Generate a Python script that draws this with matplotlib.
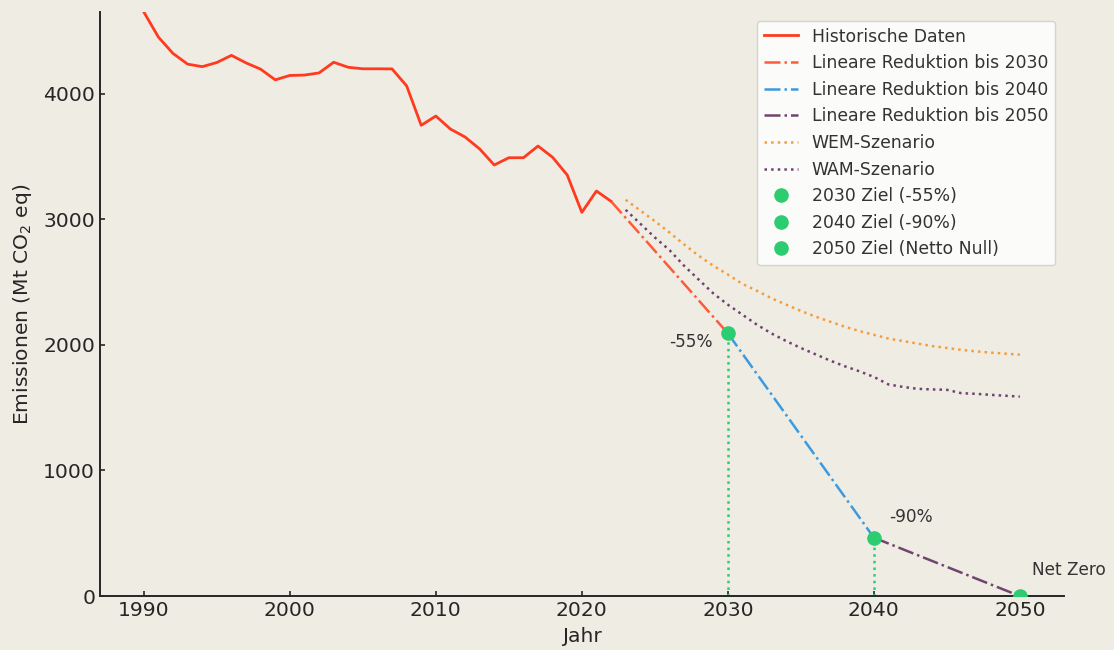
import matplotlib
matplotlib.use("Agg")
import matplotlib.pyplot as plt
import numpy as np

plt.rcParams['font.family'] = ['DejaVu Sans']

# Historical data
hist_years = list(range(1990, 2023))
hist_vals = [4650, 4450, 4320, 4235, 4215, 4248, 4305, 4245, 4195, 4110,
             4145, 4148, 4165, 4250, 4210, 4198, 4198, 4197, 4062, 3748,
             3822, 3718, 3655, 3560, 3432, 3490, 3490, 3583, 3493, 3352,
             3055, 3225, 3143]

# Scenarios
scen_years = list(range(2023, 2051))
wem_vals = [3155, 3070, 2985, 2895, 2800, 2710, 2630, 2560, 2485, 2430,
            2370, 2320, 2270, 2225, 2185, 2145, 2110, 2080, 2050, 2030,
            2010, 1990, 1975, 1960, 1948, 1938, 1930, 1922]
wam_vals = [3075, 2965, 2855, 2755, 2630, 2520, 2410, 2320, 2240, 2160,
            2090, 2030, 1975, 1925, 1875, 1830, 1790, 1745, 1685, 1665,
            1650, 1645, 1642, 1615, 1610, 1602, 1595, 1588]

# Targets
target_years = [2030, 2040, 2050]
target_vals = [2092, 465, 0]
target_labels = ["2030 Ziel (-55%)", "2040 Ziel (-90%)", "2050 Ziel (Netto Null)"]
annot_texts = ["-55%", "-90%", "Net Zero"]

# Linear reductions (start/end pairs)
lin2030_x = [2022, 2030]
lin2030_y = [3143, 2092]
lin2040_x = [2030, 2040]
lin2040_y = [2092, 465]
lin2050_x = [2040, 2050]
lin2050_y = [465, 0]

bg = "#efece3"
green = "#2ecc71"

fig = plt.figure(figsize=(11.14, 6.5), dpi=100, facecolor=bg)
ax = fig.add_axes([0.0898, 0.083, 0.865, 0.8985])
ax.set_facecolor(bg)

lw = 1.8
ax.plot(hist_years, hist_vals, color="#ff3a1f", lw=2.0, label="Historische Daten")
ax.plot(lin2030_x, lin2030_y, color="#ff5a3a", lw=lw, ls="-.", label="Lineare Reduktion bis 2030")
ax.plot(lin2040_x, lin2040_y, color="#3b9ae0", lw=lw, ls="-.", label="Lineare Reduktion bis 2040")
ax.plot(lin2050_x, lin2050_y, color="#71446f", lw=lw, ls="-.", label="Lineare Reduktion bis 2050")
ax.plot(scen_years, wem_vals, color="#f59c3d", lw=lw, ls=":", label="WEM-Szenario")
ax.plot(scen_years, wam_vals, color="#6e436f", lw=lw, ls=":", label="WAM-Szenario")

for yr, v, lab in zip(target_years, target_vals, target_labels):
    ax.plot([yr, yr], [0, v], color=green, lw=lw, ls=":")
    ax.plot([yr], [v], marker="o", ms=9.5, color=green, ls="none", label=lab, zorder=5)

offsets = [(-11, -6), (11, 15), (9, 19)]
has = ["right", "left", "left"]
for yr, v, txt, off, ha in zip(target_years, target_vals, annot_texts, offsets, has):
    ax.annotate(txt, xy=(yr, v), xytext=off, textcoords="offset points",
                ha=ha, va="center", fontsize=12.2, color="#333333")

ax.set_xlim(1987, 2053)
ax.set_ylim(0, 4650)
ax.set_xticks([1990, 2000, 2010, 2020, 2030, 2040, 2050])
ax.set_yticks([0, 1000, 2000, 3000, 4000])
ax.tick_params(labelsize=14.6, colors="#262626", direction="in", length=3.5, width=1.2)
for s in ["top", "right"]:
    ax.spines[s].set_visible(False)
for s in ["left", "bottom"]:
    ax.spines[s].set_color("#262626")
    ax.spines[s].set_linewidth(1.4)

ax.set_xlabel("Jahr", fontsize=14.6, color="#262626", labelpad=5)
ax.set_ylabel("Emissionen (Mt CO$_2$ eq)", fontsize=14.6, color="#262626", labelpad=7)

leg = ax.legend(loc="upper right", fontsize=12.4, framealpha=0.8, facecolor="white",
                edgecolor="#cccccc", labelcolor="#333333", handlelength=2.0)

fig.savefig("out.png", dpi=100, facecolor=bg)
